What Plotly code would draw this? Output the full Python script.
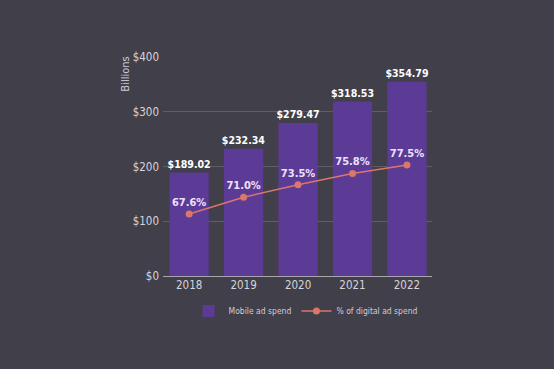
import plotly.graph_objects as go

years = ["2018", "2019", "2020", "2021", "2022"]
mobile_spend = [189.02, 232.34, 279.47, 318.53, 354.79]
pct_digital = [67.6, 71.0, 73.5, 75.8, 77.5]
y_ticks = [0, 100, 200, 300, 400]
y_tick_labels = ["$0", "$100", "$200", "$300", "$400"]

BG = "#413f49"
FONT = "DejaVu Sans Condensed, Liberation Sans Narrow, sans-serif"

fig = go.Figure()
fig.add_trace(go.Bar(
    x=years, y=mobile_spend, name="Mobile ad spend",
    marker=dict(color="#5c3b96", line=dict(width=0)),
    width=0.72,
    text=[f"${v:.2f}" for v in mobile_spend],
    textposition="outside", cliponaxis=False, constraintext="none",
    textfont=dict(color="#ffffff", size=10.5, family=FONT, weight="bold"),
))
fig.add_trace(go.Scatter(
    x=years, y=pct_digital, name="% of digital ad spend", yaxis="y2",
    mode="lines+markers+text",
    line=dict(color="#d9776a", width=1.5),
    marker=dict(color="#d9776a", size=7),
    text=[f"{v:.1f}%" for v in pct_digital],
    textposition="top center",
    textfont=dict(color="#ece2f7", size=11, family=FONT, weight="bold"),
    cliponaxis=False,
))

fig.update_layout(
    width=554, height=369,
    paper_bgcolor=BG, plot_bgcolor=BG,
    margin=dict(l=163, r=122, t=57, b=93),
    showlegend=True,
    legend=dict(orientation="h", x=0.53, xanchor="center", y=-0.16, yanchor="middle",
                font=dict(color="#cfcdd6", size=8.5, family=FONT),
                bgcolor="rgba(0,0,0,0)", itemwidth=30),
    xaxis=dict(range=[-0.48, 4.46], showgrid=False, showline=False, zeroline=False,
               tickfont=dict(color="#d6d4dc", size=11.5, family=FONT), ticks="",
               fixedrange=True),
    yaxis=dict(range=[0, 400], tickvals=y_ticks, ticktext=y_tick_labels,
               showgrid=True, gridcolor="#5f5d67", gridwidth=1,
               zeroline=True, zerolinecolor="#a8a6ae", zerolinewidth=1,
               tickfont=dict(color="#d6d4dc", size=11.5, family=FONT), ticks="",
               ticklabelstandoff=3),
    yaxis2=dict(range=[55.1, 99.3], overlaying="y", side="right", visible=False),
    hovermode=False,
    annotations=[dict(text="Billions", textangle=-90, xref="paper", yref="paper",
                      x=-0.14, y=1.01, xanchor="center", yanchor="top", showarrow=False,
                      font=dict(color="#cfcdd6", size=11, family=FONT))],
)

fig.write_html("out.html", config={"displayModeBar": False},
               post_script="document.body.style.margin='0';document.body.style.background='%s';" % BG)
